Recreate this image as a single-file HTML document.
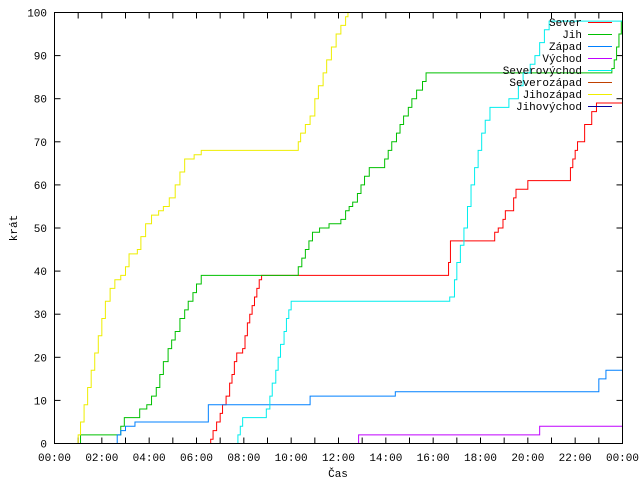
<!DOCTYPE html>
<html><head><meta charset="utf-8"><style>
body{margin:0;background:#fff}
svg text{font-family:"Liberation Mono","DejaVu Sans Mono",monospace;font-size:11px;fill:#000}
</style></head><body>
<svg id="chart" width="640" height="480" xmlns="http://www.w3.org/2000/svg">
<g id="grid"></g><g id="series"></g><g id="legend"></g>
<rect x="54.5" y="12.5" width="568" height="431" fill="none" stroke="#000"/>
<text transform="translate(17,228) rotate(-90)" text-anchor="middle">krát</text>
<text x="338" y="477" text-anchor="middle">Čas</text>
</svg>
<script>
const xTickLabels=["00:00","02:00","04:00","06:00","08:00","10:00","12:00","14:00","16:00","18:00","20:00","22:00","00:00"];
const yTicks=[0,10,20,30,40,50,60,70,80,90,100];
const seriesNames=["Sever","Jih","Západ","Východ","Severovýchod","Severozápad","Jihozápad","Jihovýchod"];
const seriesColors=["#ff0000","#00c000","#0080ff","#c000ff","#00eeee","#c04000","#eeee00","#0000a0"];
const severH=[0,6.5,6.6,6.7,6.85,7.0,7.1,7.25,7.4,7.5,7.6,7.7,7.95,8.05,8.15,8.25,8.35,8.45,8.55,8.65,8.75,16.6,16.65,16.73,18.6,18.75,18.95,19.05,19.4,19.5,20.0,21.8,21.9,22.0,22.1,22.4,22.7,22.9,23.0,24];
const severV=[0,0,1,3,5,7,9,11,14,16,19,21,22,25,28,30,32,34,36,38,39,39,42,47,49,50,52,54,57,59,61,64,66,68,70,74,77,79,79,79];
const jihH=[0,1.1,2.7,2.8,2.95,3.5,3.6,3.9,4.1,4.3,4.45,4.6,4.8,4.95,5.1,5.3,5.5,5.65,5.85,6.0,6.2,10.2,10.3,10.45,10.6,10.75,10.9,11.2,11.6,12.1,12.3,12.45,12.6,12.8,12.95,13.1,13.3,13.8,13.95,14.1,14.25,14.45,14.6,14.75,14.95,15.1,15.3,15.55,15.7,23.4,23.55,23.65,23.75,23.85,23.95,24];
const jihV=[0,2,2,4,6,6,8,9,11,13,16,19,22,24,26,29,31,33,35,37,39,39,41,43,45,47,49,50,51,52,54,55,56,58,60,62,64,64,66,68,70,72,74,76,78,80,82,84,86,86,87,89,92,95,98,100];
const zapadH=[0,2.65,2.8,3.0,3.2,3.4,6.4,6.5,10.8,14.4,22.8,23.0,23.3,24];
const zapadV=[0,2,3,4,4,5,5,9,11,12,12,15,17,18];
const vychodH=[0,12.85,20.5,24];
const vychodV=[0,2,4,4];
const svH=[0,7.7,7.75,7.85,7.95,8.85,8.95,9.1,9.2,9.35,9.45,9.55,9.7,9.8,9.9,10.0,16.7,16.8,16.9,17.0,17.15,17.3,17.45,17.6,17.75,17.9,18.05,18.2,18.4,19.2,19.4,19.6,19.8,20.1,20.3,20.5,20.7,20.9,24];
const svV=[0,0,2,4,6,6,8,11,14,17,20,23,26,29,31,33,34,34,38,42,46,50,55,60,64,68,72,75,78,80,80,83,86,88,90,93,96,98,100,100];
const jzH=[0,0.93,1.0,1.1,1.25,1.4,1.55,1.7,1.85,2.0,2.15,2.35,2.55,2.8,3.0,3.15,3.5,3.65,3.85,4.1,4.4,4.6,4.85,5.1,5.3,5.5,5.9,6.2,10.2,10.3,10.4,10.6,10.8,11.0,11.15,11.35,11.5,11.7,11.9,12.1,12.3,12.4,24];
const jzV=[0,0,2,5,9,13,17,21,25,29,33,36,38,39,41,44,45,48,51,53,54,55,57,60,63,66,67,68,68,70,72,74,76,80,83,86,89,92,95,97,99,100,100];
const allH=[severH,jihH,zapadH,vychodH,svH,[],jzH,[]];
const allV=[severV,jihV,zapadV,vychodV,svV,[],jzV,[]];
const L=54.5,R=622.5,T=12.5,B=443.5;
const xs=h=>L+h/24*(R-L), ys=v=>B-v/100*(B-T);
const NS="http://www.w3.org/2000/svg";
function mk(tag,attrs,parent){const e=document.createElementNS(NS,tag);for(const k in attrs)e.setAttribute(k,attrs[k]);parent.appendChild(e);return e;}
const g=document.getElementById('grid');
for(let h=0;h<=24;h++){
  const x=xs(h);
  const t1=mk('line',{x1:x,x2:x,y1:B,y2:B-6,stroke:'#000'},g);
  
  
  const t2=mk('line',{x1:x,x2:x,y1:T,y2:T+6,stroke:'#000'},g);
  
  
}
xTickLabels.forEach((s,i)=>{
  const t=mk('text',{x:xs(i*2),y:461,'text-anchor':'middle'},g);t.textContent=s;
  
  
});
yTicks.forEach(v=>{
  const y=ys(v);
  const a=mk('line',{x1:L,x2:L+6,y1:y,y2:y,stroke:'#000'},g);
  
  
  const b=mk('line',{x1:R,x2:R-6,y1:y,y2:y,stroke:'#000'},g);
  
  
  const t=mk('text',{x:47,y:y+4,'text-anchor':'end'},g);t.textContent=v;
  
  
});
const sg=document.getElementById('series');
allH.forEach((H,i)=>{
  if(!H.length)return;
  const V=allV[i];let d='M'+xs(H[0])+','+ys(V[0]);
  for(let k=1;k<H.length;k++){d+=' H'+xs(H[k])+' V'+ys(V[k]);}
  const p=mk('path',{d:d,fill:'none',stroke:seriesColors[i],'stroke-width':1},sg);
  
  
});
const lg=document.getElementById('legend');
seriesNames.forEach((n,i)=>{
  const y=22+i*12;
  const t=mk('text',{x:582,y:y+4,'text-anchor':'end'},lg);t.textContent=n;
  
  
  const l=mk('line',{x1:588,x2:612,y1:y+0.5,y2:y+0.5,stroke:seriesColors[i]},lg);
  
  
});
</script>
</body></html>
